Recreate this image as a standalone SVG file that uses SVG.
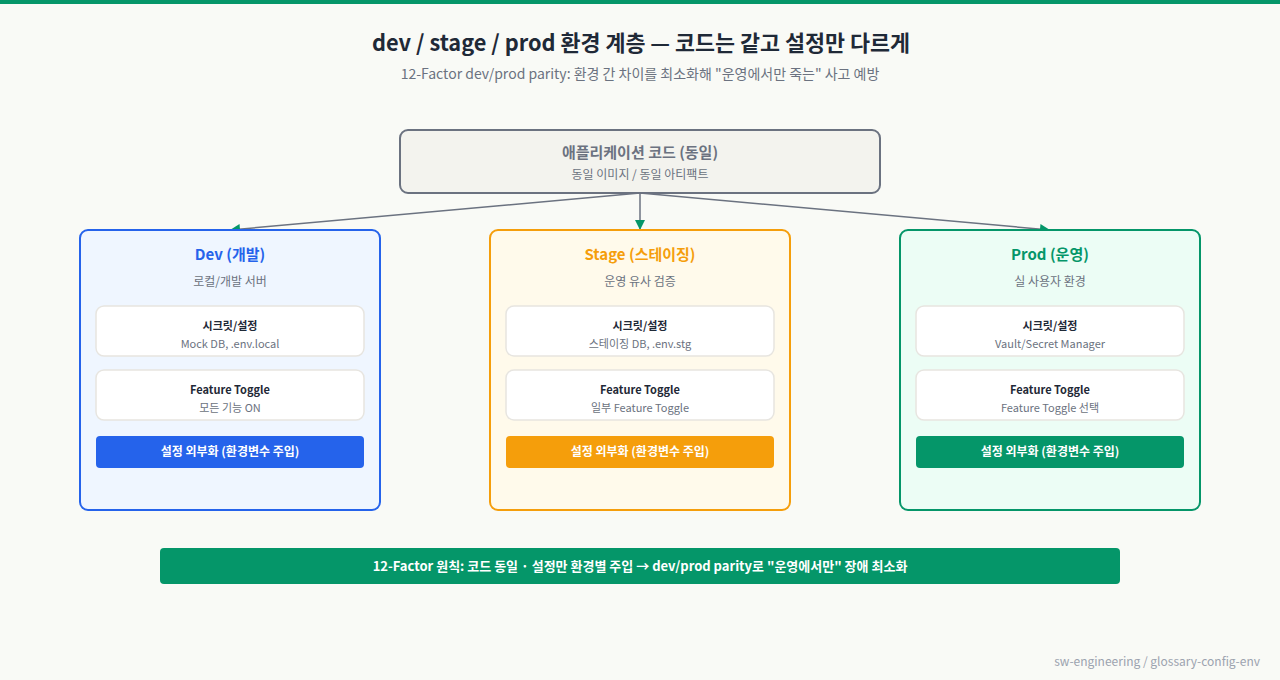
<svg xmlns="http://www.w3.org/2000/svg" width="1280" height="680" viewBox="0 0 1280 680">
<defs>
<marker id="arr" viewBox="0 0 10 10" refX="10" refY="5" markerWidth="10" markerHeight="10" markerUnits="userSpaceOnUse" orient="auto">
<path d="M0,0 L10,5 L0,10 z" fill="#059669"/>
</marker>
<style>
text{font-family:"Noto Sans CJK KR","Noto Sans",sans-serif;text-anchor:middle}
.title{font-size:22px;font-weight:700;fill:#1f2937}
.sub{font-size:14px;fill:#6b7280}
.envt{font-size:15px;font-weight:700}
.envs{font-size:12px;fill:#6b7280}
.card{fill:#ffffff;stroke:#e7e5e0;stroke-width:1.5}
.ct{font-size:11px;font-weight:700;fill:#1f2937}
.cs{font-size:11px;fill:#6b7280}
.btn{font-size:12px;font-weight:700;fill:#ffffff}
.conn{stroke:#6b7280;stroke-width:1.5;fill:none}
</style>
</defs>
<rect width="1280" height="680" fill="#f9faf6"/>
<rect width="1280" height="4" fill="#059669"/>
<g id="header">
<text x="641" y="51" class="title" textLength="538" lengthAdjust="spacingAndGlyphs">dev / stage / prod 환경 계층 — 코드는 같고 설정만 다르게</text>
<text x="640" y="79" class="sub">12-Factor dev/prod parity: 환경 간 차이를 최소화해 "운영에서만 죽는" 사고 예방</text>
</g>
<g id="connectors">
<line x1="640" y1="193" x2="230" y2="230" class="conn" marker-end="url(#arr)"/>
<line x1="640" y1="193" x2="640" y2="230" class="conn" marker-end="url(#arr)"/>
<line x1="640" y1="193" x2="1050" y2="230" class="conn" marker-end="url(#arr)"/>
</g>
<g id="app">
<rect x="400" y="130" width="480" height="63" rx="8" fill="#f3f3ee" stroke="#6b7280" stroke-width="2"/>
<text x="640" y="158" style="font-size:15px;font-weight:700;fill:#6b7280">애플리케이션 코드 (동일)</text>
<text x="640" y="179" style="font-size:12px;fill:#6b7280">동일 이미지 / 동일 아티팩트</text>
</g>
<g id="dev">
<rect x="80" y="230" width="300" height="280" rx="8" fill="#eff6ff" stroke="#2563eb" stroke-width="2"/>
<text x="230" y="260" class="envt" fill="#2563eb">Dev (개발)</text>
<text x="230" y="286" class="envs">로컬/개발 서버</text>
<rect x="96" y="306" width="268" height="50" rx="8" class="card"/>
<text x="230" y="330" class="ct">시크릿/설정</text>
<text x="230" y="348" class="cs">Mock DB, .env.local</text>
<rect x="96" y="370" width="268" height="50" rx="8" class="card"/>
<text x="230" y="394" class="ct">Feature Toggle</text>
<text x="230" y="412" class="cs">모든 기능 ON</text>
<rect x="96" y="436" width="268" height="32" rx="4" fill="#2563eb"/>
<text x="230" y="456" class="btn">설정 외부화 (환경변수 주입)</text>
</g>
<g id="stage">
<rect x="490" y="230" width="300" height="280" rx="8" fill="#fffaeb" stroke="#f59e0b" stroke-width="2"/>
<text x="640" y="260" class="envt" fill="#f59e0b">Stage (스테이징)</text>
<text x="640" y="286" class="envs">운영 유사 검증</text>
<rect x="506" y="306" width="268" height="50" rx="8" class="card"/>
<text x="640" y="330" class="ct">시크릿/설정</text>
<text x="640" y="348" class="cs">스테이징 DB, .env.stg</text>
<rect x="506" y="370" width="268" height="50" rx="8" class="card"/>
<text x="640" y="394" class="ct">Feature Toggle</text>
<text x="640" y="412" class="cs">일부 Feature Toggle</text>
<rect x="506" y="436" width="268" height="32" rx="4" fill="#f59e0b"/>
<text x="640" y="456" class="btn">설정 외부화 (환경변수 주입)</text>
</g>
<g id="prod">
<rect x="900" y="230" width="300" height="280" rx="8" fill="#ecfdf5" stroke="#059669" stroke-width="2"/>
<text x="1050" y="260" class="envt" fill="#059669">Prod (운영)</text>
<text x="1050" y="286" class="envs">실 사용자 환경</text>
<rect x="916" y="306" width="268" height="50" rx="8" class="card"/>
<text x="1050" y="330" class="ct">시크릿/설정</text>
<text x="1050" y="348" class="cs">Vault/Secret Manager</text>
<rect x="916" y="370" width="268" height="50" rx="8" class="card"/>
<text x="1050" y="394" class="ct">Feature Toggle</text>
<text x="1050" y="412" class="cs">Feature Toggle 선택</text>
<rect x="916" y="436" width="268" height="32" rx="4" fill="#059669"/>
<text x="1050" y="456" class="btn">설정 외부화 (환경변수 주입)</text>
</g>
<g id="banner">
<rect x="160" y="548" width="960" height="36" rx="4" fill="#059669"/>
<text x="640" y="571" style="font-size:13px;font-weight:700;fill:#ffffff">12-Factor 원칙: 코드 동일 · 설정만 환경별 주입 → dev/prod parity로 "운영에서만" 장애 최소화</text>
</g>
<text x="1260" y="666" style="font-size:12px;fill:#9ca3af;text-anchor:end">sw-engineering / glossary-config-env</text>
</svg>
